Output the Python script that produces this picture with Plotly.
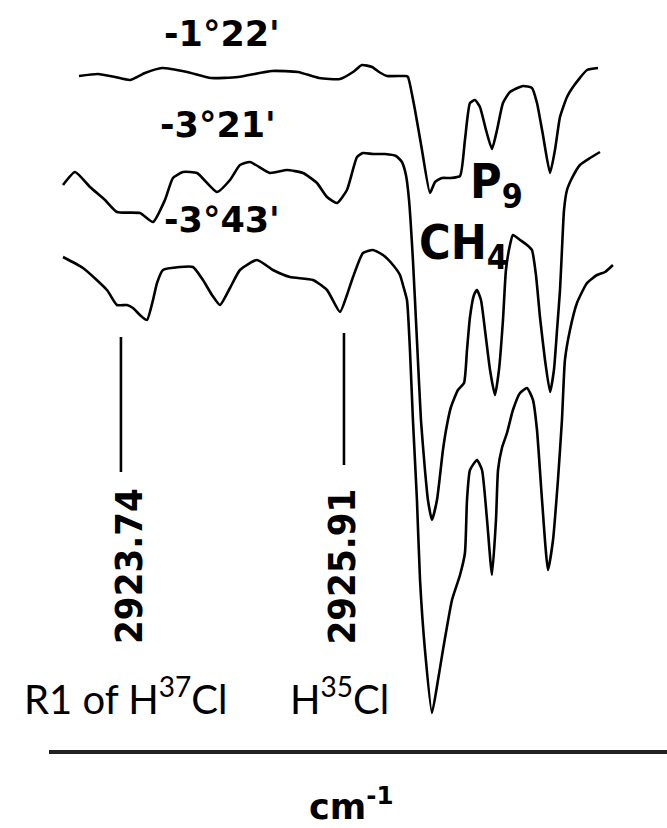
import plotly.graph_objects as go

# ---- Data (wavenumber in cm^-1, signal in arbitrary offset units) ----
wn_122 = [2923.332, 2923.517, 2923.682, 2923.828, 2923.974, 2924.139, 2924.383, 2924.616, 2924.879, 2925.210,
          2925.463, 2925.667, 2925.871, 2925.998, 2926.085, 2926.183, 2926.251, 2926.329, 2926.513, 2926.533,
          2926.601, 2926.669, 2926.747, 2926.796, 2926.864, 2926.942, 2927.039, 2927.087, 2927.136, 2927.185,
          2927.233, 2927.292, 2927.350, 2927.399, 2927.457, 2927.525, 2927.652, 2927.739, 2927.788, 2927.846,
          2927.915, 2927.963, 2928.012, 2928.080, 2928.138, 2928.275, 2928.382]
sig_122 = [7.24, 7.26, 7.23, 7.20, 7.27, 7.32, 7.28, 7.22, 7.23, 7.29,
           7.28, 7.22, 7.21, 7.28, 7.35, 7.33, 7.28, 7.24, 7.24, 7.23,
           6.90, 6.50, 6.07, 6.18, 6.22, 6.22, 6.24, 6.60, 6.97, 7.00,
           6.93, 6.70, 6.51, 6.70, 6.97, 7.08, 7.14, 7.12, 6.97, 6.65,
           6.27, 6.50, 6.83, 7.03, 7.13, 7.30, 7.32]

wn_321 = [2923.176, 2923.293, 2923.439, 2923.585, 2923.701, 2923.925, 2924.052, 2924.168, 2924.246, 2924.344,
          2924.480, 2924.674, 2924.801, 2924.898, 2924.996, 2925.190, 2925.356, 2925.511, 2925.647, 2925.745,
          2925.842, 2925.939, 2926.037, 2926.095, 2926.192, 2926.309, 2926.416, 2926.474, 2926.513, 2926.543,
          2926.581, 2926.620, 2926.659, 2926.698, 2926.727, 2926.766, 2926.815, 2926.873, 2926.912, 2926.951,
          2927.019, 2927.078, 2927.107, 2927.136, 2927.175, 2927.204, 2927.243, 2927.282, 2927.331, 2927.379,
          2927.418, 2927.457, 2927.486, 2927.525, 2927.554, 2927.623, 2927.691, 2927.739, 2927.778, 2927.817,
          2927.866, 2927.915, 2927.953, 2927.983, 2928.012, 2928.031, 2928.051, 2928.080, 2928.129, 2928.206,
          2928.304, 2928.401]
sig_321 = [6.15, 6.28, 6.13, 6.00, 5.88, 5.87, 5.78, 6.00, 6.22, 6.28,
           6.27, 6.08, 6.20, 6.35, 6.38, 6.27, 6.30, 6.27, 6.17, 6.03,
           5.97, 6.10, 6.43, 6.47, 6.46, 6.46, 6.44, 6.38, 6.25, 6.00,
           5.40, 4.60, 3.80, 3.30, 3.00, 2.80, 3.00, 3.50, 3.75, 3.93,
           4.10, 4.17, 4.50, 4.83, 5.05, 5.10, 5.00, 4.70, 4.30, 4.05,
           4.30, 4.80, 5.30, 5.55, 5.65, 5.60, 5.55, 5.50, 5.25, 4.83,
           4.40, 4.08, 4.30, 4.70, 5.10, 5.50, 5.90, 6.10, 6.22, 6.35,
           6.42, 6.48]

wn_343 = [2923.176, 2923.371, 2923.604, 2923.701, 2923.799, 2923.857, 2923.925, 2923.993, 2924.052, 2924.091,
          2924.149, 2924.314, 2924.441, 2924.538, 2924.626, 2924.704, 2924.801, 2924.898, 2925.064, 2925.219,
          2925.385, 2925.608, 2925.745, 2925.871, 2925.939, 2925.998, 2926.095, 2926.192, 2926.290, 2926.387,
          2926.455, 2926.484, 2926.523, 2926.552, 2926.581, 2926.620, 2926.650, 2926.698, 2926.766, 2926.825,
          2926.873, 2926.912, 2926.961, 2927.039, 2927.087, 2927.107, 2927.136, 2927.204, 2927.253, 2927.302,
          2927.350, 2927.389, 2927.409, 2927.447, 2927.496, 2927.554, 2927.623, 2927.691, 2927.749, 2927.788,
          2927.837, 2927.895, 2927.944, 2927.992, 2928.031, 2928.060, 2928.109, 2928.177, 2928.275, 2928.372,
          2928.450, 2928.527]
sig_343 = [5.43, 5.32, 5.10, 4.95, 4.95, 4.92, 4.85, 4.80, 5.00, 5.17,
           5.30, 5.33, 5.33, 5.20, 5.05, 4.95, 5.12, 5.30, 5.40, 5.30,
           5.23, 5.20, 5.10, 4.88, 5.05, 5.23, 5.47, 5.50, 5.45, 5.35,
           5.25, 5.15, 5.00, 4.50, 3.80, 3.00, 2.20, 1.50, 0.87, 1.20,
           1.50, 1.73, 2.00, 2.25, 2.47, 3.00, 3.30, 3.40, 3.30, 2.80,
           2.25, 2.80, 3.30, 3.52, 3.67, 3.90, 4.07, 4.12, 4.00, 3.70,
           3.00, 2.30, 2.60, 3.20, 3.80, 4.40, 4.70, 4.97, 5.17, 5.25,
           5.28, 5.35]

series_labels = ["-1°22'", "-3°21'", "-3°43'"]
label_wn = [2924.723, 2924.684, 2924.723]
label_sig = [7.66, 6.75, 5.80]

line_wn = [2923.74, 2925.91]
line_top = [4.63, 4.67]
line_bottom = [3.28, 3.35]
line_labels = ["2923.74", "2925.91"]

x_range = [2923.040, 2929.053]
y_range = [0.5, 8.0]

fig = go.Figure()
for xs, ys, name in [(wn_122, sig_122, series_labels[0]),
                     (wn_321, sig_321, series_labels[1]),
                     (wn_343, sig_343, series_labels[2])]:
    fig.add_trace(go.Scatter(x=xs, y=ys, mode="lines", name=name,
                             line=dict(color="black", width=2.6, shape="spline", smoothing=0.5),
                             showlegend=False, hoverinfo="skip"))

for wn, top, bot in zip(line_wn, line_top, line_bottom):
    fig.add_trace(go.Scatter(x=[wn, wn], y=[top, bot], mode="lines",
                             line=dict(color="black", width=2.6), showlegend=False, hoverinfo="skip"))

title_font = dict(family="DejaVu Sans", size=35, color="black")
ann = []
for t, x, y in zip(series_labels, label_wn, label_sig):
    ann.append(dict(x=x, y=y, xref="x", yref="y", text="<b>%s</b>" % t, showarrow=False,
                    font=title_font, xanchor="center", yanchor="middle"))

cond_font = dict(family="DejaVu Sans Condensed, Liberation Sans Narrow, DejaVu Sans", size=48, color="black")
ann.append(dict(x=2927.117, y=6.16, xref="x", yref="y", text="<b>P<sub>9</sub></b>", showarrow=False,
                font=cond_font, xanchor="left", yanchor="middle"))
ann.append(dict(x=2926.620, y=5.55, xref="x", yref="y", text="<b>CH<sub>4</sub></b>", showarrow=False,
                font=cond_font, xanchor="left", yanchor="middle"))

num_font = dict(family="DejaVu Sans Condensed, Liberation Sans Narrow, DejaVu Sans", size=38, color="black")
for wn, lab, xs in zip(line_wn, line_labels, [8, -1.5]):
    ann.append(dict(x=wn, y=2.34, xref="x", yref="y", text="<b>%s</b>" % lab, textangle=-90,
                    showarrow=False, font=num_font, xanchor="center", yanchor="middle", xshift=xs))

cal_font = dict(family="Lato, Open Sans, sans-serif", size=40, color="black")
ann.append(dict(x=22 / 667, y=0.159, xref="paper", yref="paper", text="R1 of H<sup>37</sup>Cl",
                showarrow=False, font=cal_font, xanchor="left", yanchor="middle"))
ann.append(dict(x=288 / 667, y=0.159, xref="paper", yref="paper", text="H<sup>35</sup>Cl",
                showarrow=False, font=cal_font, xanchor="left", yanchor="middle"))
ann.append(dict(x=351 / 667, y=0.0, xref="paper", yref="paper", text="<b>cm<sup>-1</sup></b>",
                showarrow=False, font=dict(family="DejaVu Sans", size=35, color="black"),
                xanchor="center", yanchor="bottom", borderpad=0))

fig.update_layout(
    width=667, height=828,
    margin=dict(l=0, r=0, t=0, b=0),
    paper_bgcolor="white", plot_bgcolor="white",
    annotations=ann,
    xaxis=dict(domain=[49 / 667, 1], range=x_range, showgrid=False, zeroline=False,
               showticklabels=False, ticks="", showline=True, linecolor="#222", linewidth=3.5),
    yaxis=dict(domain=[78 / 828, 1], range=y_range, visible=False, showgrid=False, zeroline=False),
)

fig.write_html("out.html", config={"displayModeBar": False},
               post_script="document.body.style.margin='0';document.body.style.overflow='hidden';")
